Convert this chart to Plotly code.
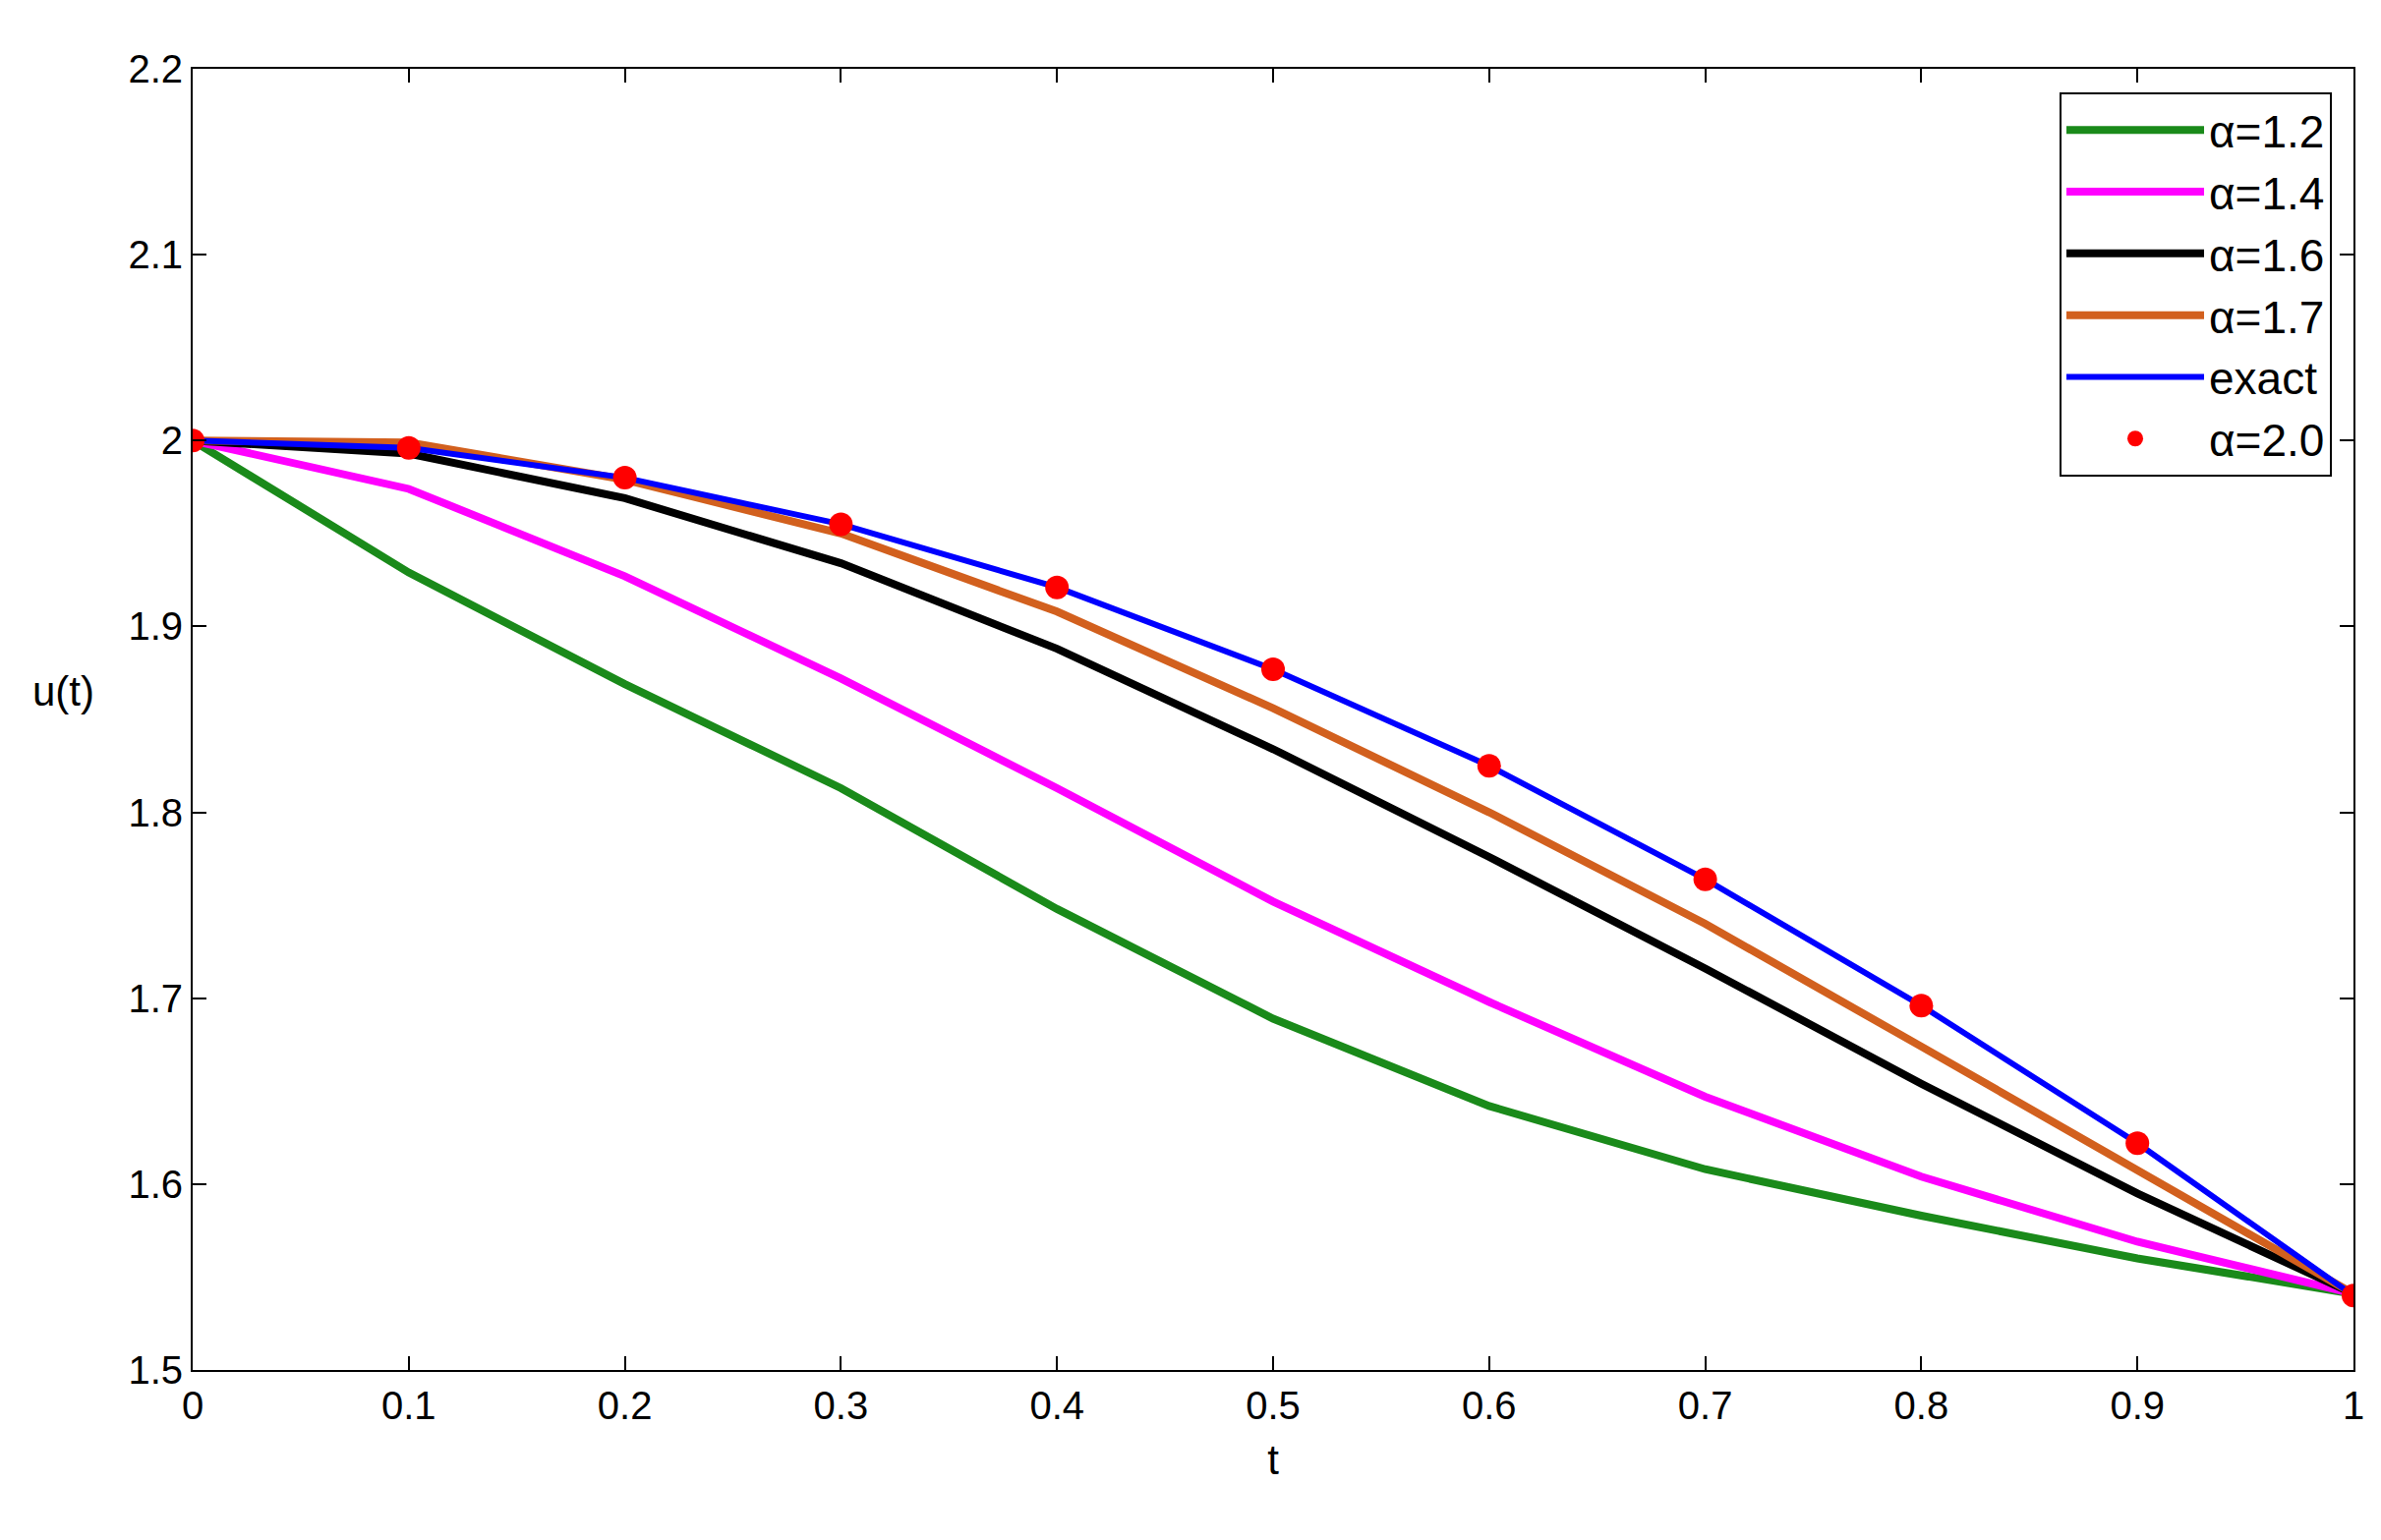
import plotly.graph_objects as go

t = [0, 0.1, 0.2, 0.3, 0.4, 0.5, 0.6, 0.7, 0.8, 0.9, 1.0]
a12 = [2.0, 1.929, 1.869, 1.813, 1.748, 1.689, 1.642, 1.608, 1.583, 1.560, 1.541]
a14 = [2.0, 1.974, 1.927, 1.872, 1.813, 1.752, 1.698, 1.647, 1.604, 1.569, 1.541]
a16 = [2.0, 1.993, 1.969, 1.934, 1.888, 1.834, 1.776, 1.716, 1.654, 1.595, 1.541]
a17 = [2.0, 1.999, 1.979, 1.950, 1.908, 1.856, 1.800, 1.740, 1.674, 1.607, 1.541]
exact = [2.0, 1.996, 1.980, 1.955, 1.921, 1.877, 1.825, 1.764, 1.696, 1.622, 1.540]
a20 = exact

F = "Arial, Liberation Sans"
fig = go.Figure()
for name, y, c in [("α=1.2", a12, "#1a8a1a"), ("α=1.4", a14, "#ff00ff"),
                   ("α=1.6", a16, "#000000"), ("α=1.7", a17, "#d2601e"),
                   ("exact", exact, "#0000ff")]:
    fig.add_trace(go.Scatter(x=t, y=y, mode="lines", name=name,
                             line=dict(color=c, width=8 if name != "exact" else 6)))
fig.add_trace(go.Scatter(x=t, y=a20, mode="markers", name="α=2.0",
                         marker=dict(color="#ff0000", size=24)))

ax = dict(showgrid=False, zeroline=False, showline=True, linecolor="black", linewidth=2,
          mirror="ticks", ticks="inside", ticklen=14, tickwidth=2, tickcolor="black",
          tickfont=dict(family=F, size=40, color="black"))
fig.update_layout(
    width=2422, height=1567, plot_bgcolor="white", paper_bgcolor="white",
    margin=dict(l=188, r=36, t=62, b=181),
    xaxis=dict(**ax, range=[0, 1], dtick=0.1,
               title=dict(text="t", font=dict(size=42, family=F, color="black"), standoff=20)),
    yaxis=dict(**ax, range=[1.5, 2.2], dtick=0.1),
    legend=dict(x=0.99, y=0.982, xanchor="right", yanchor="top", bgcolor="white",
                bordercolor="black", borderwidth=2,
                font=dict(family=F, size=46, color="black"),
                itemwidth=140, tracegroupgap=0),
    showlegend=True,
)
fig.add_annotation(text="u(t)", xref="paper", yref="y", x=-0.075, y=1.865,
                   showarrow=False, font=dict(size=42, family=F, color="black"))
fig.write_html("out.html")
